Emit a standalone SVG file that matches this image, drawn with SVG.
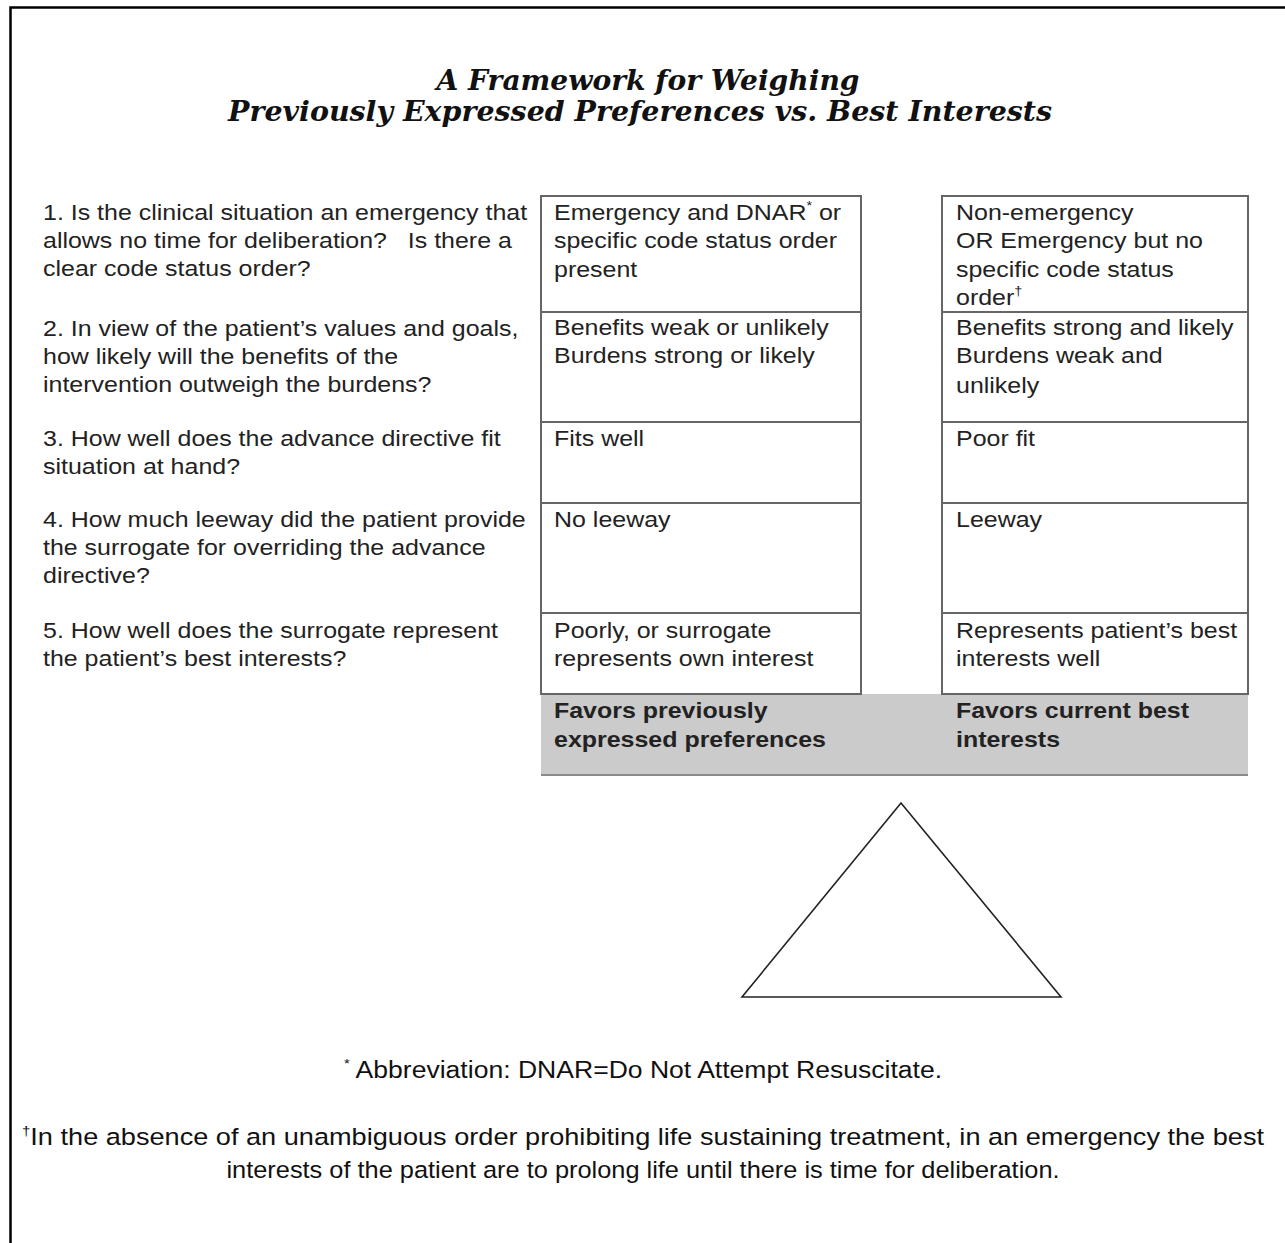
<svg xmlns="http://www.w3.org/2000/svg" width="1285" height="1243" viewBox="0 0 1285 1243">
<style>
.title{font-family:"DejaVu Serif","Liberation Serif",serif;font-weight:bold;font-style:italic;font-size:28px;fill:#111;text-anchor:middle}
.q{font-family:"Liberation Sans",Arial,sans-serif;font-size:22.5px;fill:#222}
.b{font-family:"Liberation Sans",Arial,sans-serif;font-size:22.5px;fill:#222}
.bb{font-family:"Liberation Sans",Arial,sans-serif;font-size:22.5px;font-weight:bold;fill:#222}
.fn{font-family:"Liberation Sans",Arial,sans-serif;font-size:23.5px;fill:#111;text-anchor:middle}
.sup{font-size:13px}
.cell{fill:#fff;stroke:#666;stroke-width:2}
</style>
<rect width="1285" height="1243" fill="#fff"/>
<path d="M10.5,1243 V7.5 H1285" fill="none" stroke="#000" stroke-width="2.5"/>
<g id="title">
<text class="title" x="648" y="90" textLength="423" lengthAdjust="spacingAndGlyphs">A Framework for Weighing</text>
<text class="title" x="640" y="121" textLength="824" lengthAdjust="spacingAndGlyphs">Previously Expressed Preferences vs. Best Interests</text>
</g>
<g id="questions" transform="translate(43 0) scale(1.11 1)">
<text class="q" x="0" y="220">1. Is the clinical situation an emergency that</text>
<text class="q" x="0" y="248" xml:space="preserve">allows no time for deliberation?   Is there a</text>
<text class="q" x="0" y="276">clear code status order?</text>
<text class="q" x="0" y="336">2. In view of the patient’s values and goals,</text>
<text class="q" x="0" y="364">how likely will the benefits of the</text>
<text class="q" x="0" y="392">intervention outweigh the burdens?</text>
<text class="q" x="0" y="446">3. How well does the advance directive fit</text>
<text class="q" x="0" y="474">situation at hand?</text>
<text class="q" x="0" y="527">4. How much leeway did the patient provide</text>
<text class="q" x="0" y="555">the surrogate for overriding the advance</text>
<text class="q" x="0" y="583">directive?</text>
<text class="q" x="0" y="638">5. How well does the surrogate represent</text>
<text class="q" x="0" y="666">the patient’s best interests?</text>
</g>
<g id="band">
<rect x="541" y="694" width="707" height="81" fill="#cbcbcb"/>
<line x1="541" y1="775" x2="1248" y2="775" stroke="#8a8a8a" stroke-width="2"/>
<g transform="translate(554 0) scale(1.11 1)">
<text class="bb" x="0" y="718">Favors previously</text>
<text class="bb" x="0" y="747">expressed preferences</text>
</g>
<g transform="translate(956 0) scale(1.11 1)">
<text class="bb" x="0" y="718">Favors current best</text>
<text class="bb" x="0" y="747">interests</text>
</g>
</g>
<g id="left-column">
<rect class="cell" x="541" y="196" width="320" height="116"/>
<rect class="cell" x="541" y="312" width="320" height="110"/>
<rect class="cell" x="541" y="422" width="320" height="81"/>
<rect class="cell" x="541" y="503" width="320" height="110"/>
<rect class="cell" x="541" y="613" width="320" height="81"/>
<g transform="translate(554 0) scale(1.11 1)">
<text class="b" x="0" y="220">Emergency and DNAR<tspan class="sup" dy="-10">*</tspan><tspan dy="10"> or</tspan></text>
<text class="b" x="0" y="248">specific code status order</text>
<text class="b" x="0" y="277">present</text>
<text class="b" x="0" y="335">Benefits weak or unlikely</text>
<text class="b" x="0" y="363">Burdens strong or likely</text>
<text class="b" x="0" y="446">Fits well</text>
<text class="b" x="0" y="527">No leeway</text>
<text class="b" x="0" y="638">Poorly, or surrogate</text>
<text class="b" x="0" y="666">represents own interest</text>
</g>
</g>
<g id="right-column">
<rect class="cell" x="942" y="196" width="306" height="116"/>
<rect class="cell" x="942" y="312" width="306" height="110"/>
<rect class="cell" x="942" y="422" width="306" height="81"/>
<rect class="cell" x="942" y="503" width="306" height="110"/>
<rect class="cell" x="942" y="613" width="306" height="81"/>
<g transform="translate(956 0) scale(1.11 1)">
<text class="b" x="0" y="220">Non-emergency</text>
<text class="b" x="0" y="248">OR Emergency but no</text>
<text class="b" x="0" y="277">specific code status</text>
<text class="b" x="0" y="305">order<tspan class="sup" dy="-10">†</tspan></text>
<text class="b" x="0" y="335">Benefits strong and likely</text>
<text class="b" x="0" y="363">Burdens weak and</text>
<text class="b" x="0" y="393">unlikely</text>
<text class="b" x="0" y="446">Poor fit</text>
<text class="b" x="0" y="527">Leeway</text>
<text class="b" x="0" y="638">Represents patient’s best</text>
<text class="b" x="0" y="666">interests well</text>
</g>
</g>
<g id="fulcrum">
<polygon points="901,803 742,997 1061,997" fill="#fff" stroke="#222" stroke-width="1.6"/>
</g>
<g id="footnotes">
<g transform="translate(643 0) scale(1.13 1)">
<text class="fn" x="0" y="1078"><tspan class="sup" dy="-10">*</tspan><tspan dy="10"> Abbreviation: DNAR=Do Not Attempt Resuscitate.</tspan></text>
</g>
<g transform="translate(643 0) scale(1.155 1)">
<text class="fn" x="0" y="1145"><tspan class="sup" dy="-10">†</tspan><tspan dy="10">In the absence of an unambiguous order prohibiting life sustaining treatment, in an emergency the best</tspan></text>
</g>
<g transform="translate(643 0) scale(1.08 1)">
<text class="fn" x="0" y="1178">interests of the patient are to prolong life until there is time for deliberation.</text>
</g>
</g>
</svg>
